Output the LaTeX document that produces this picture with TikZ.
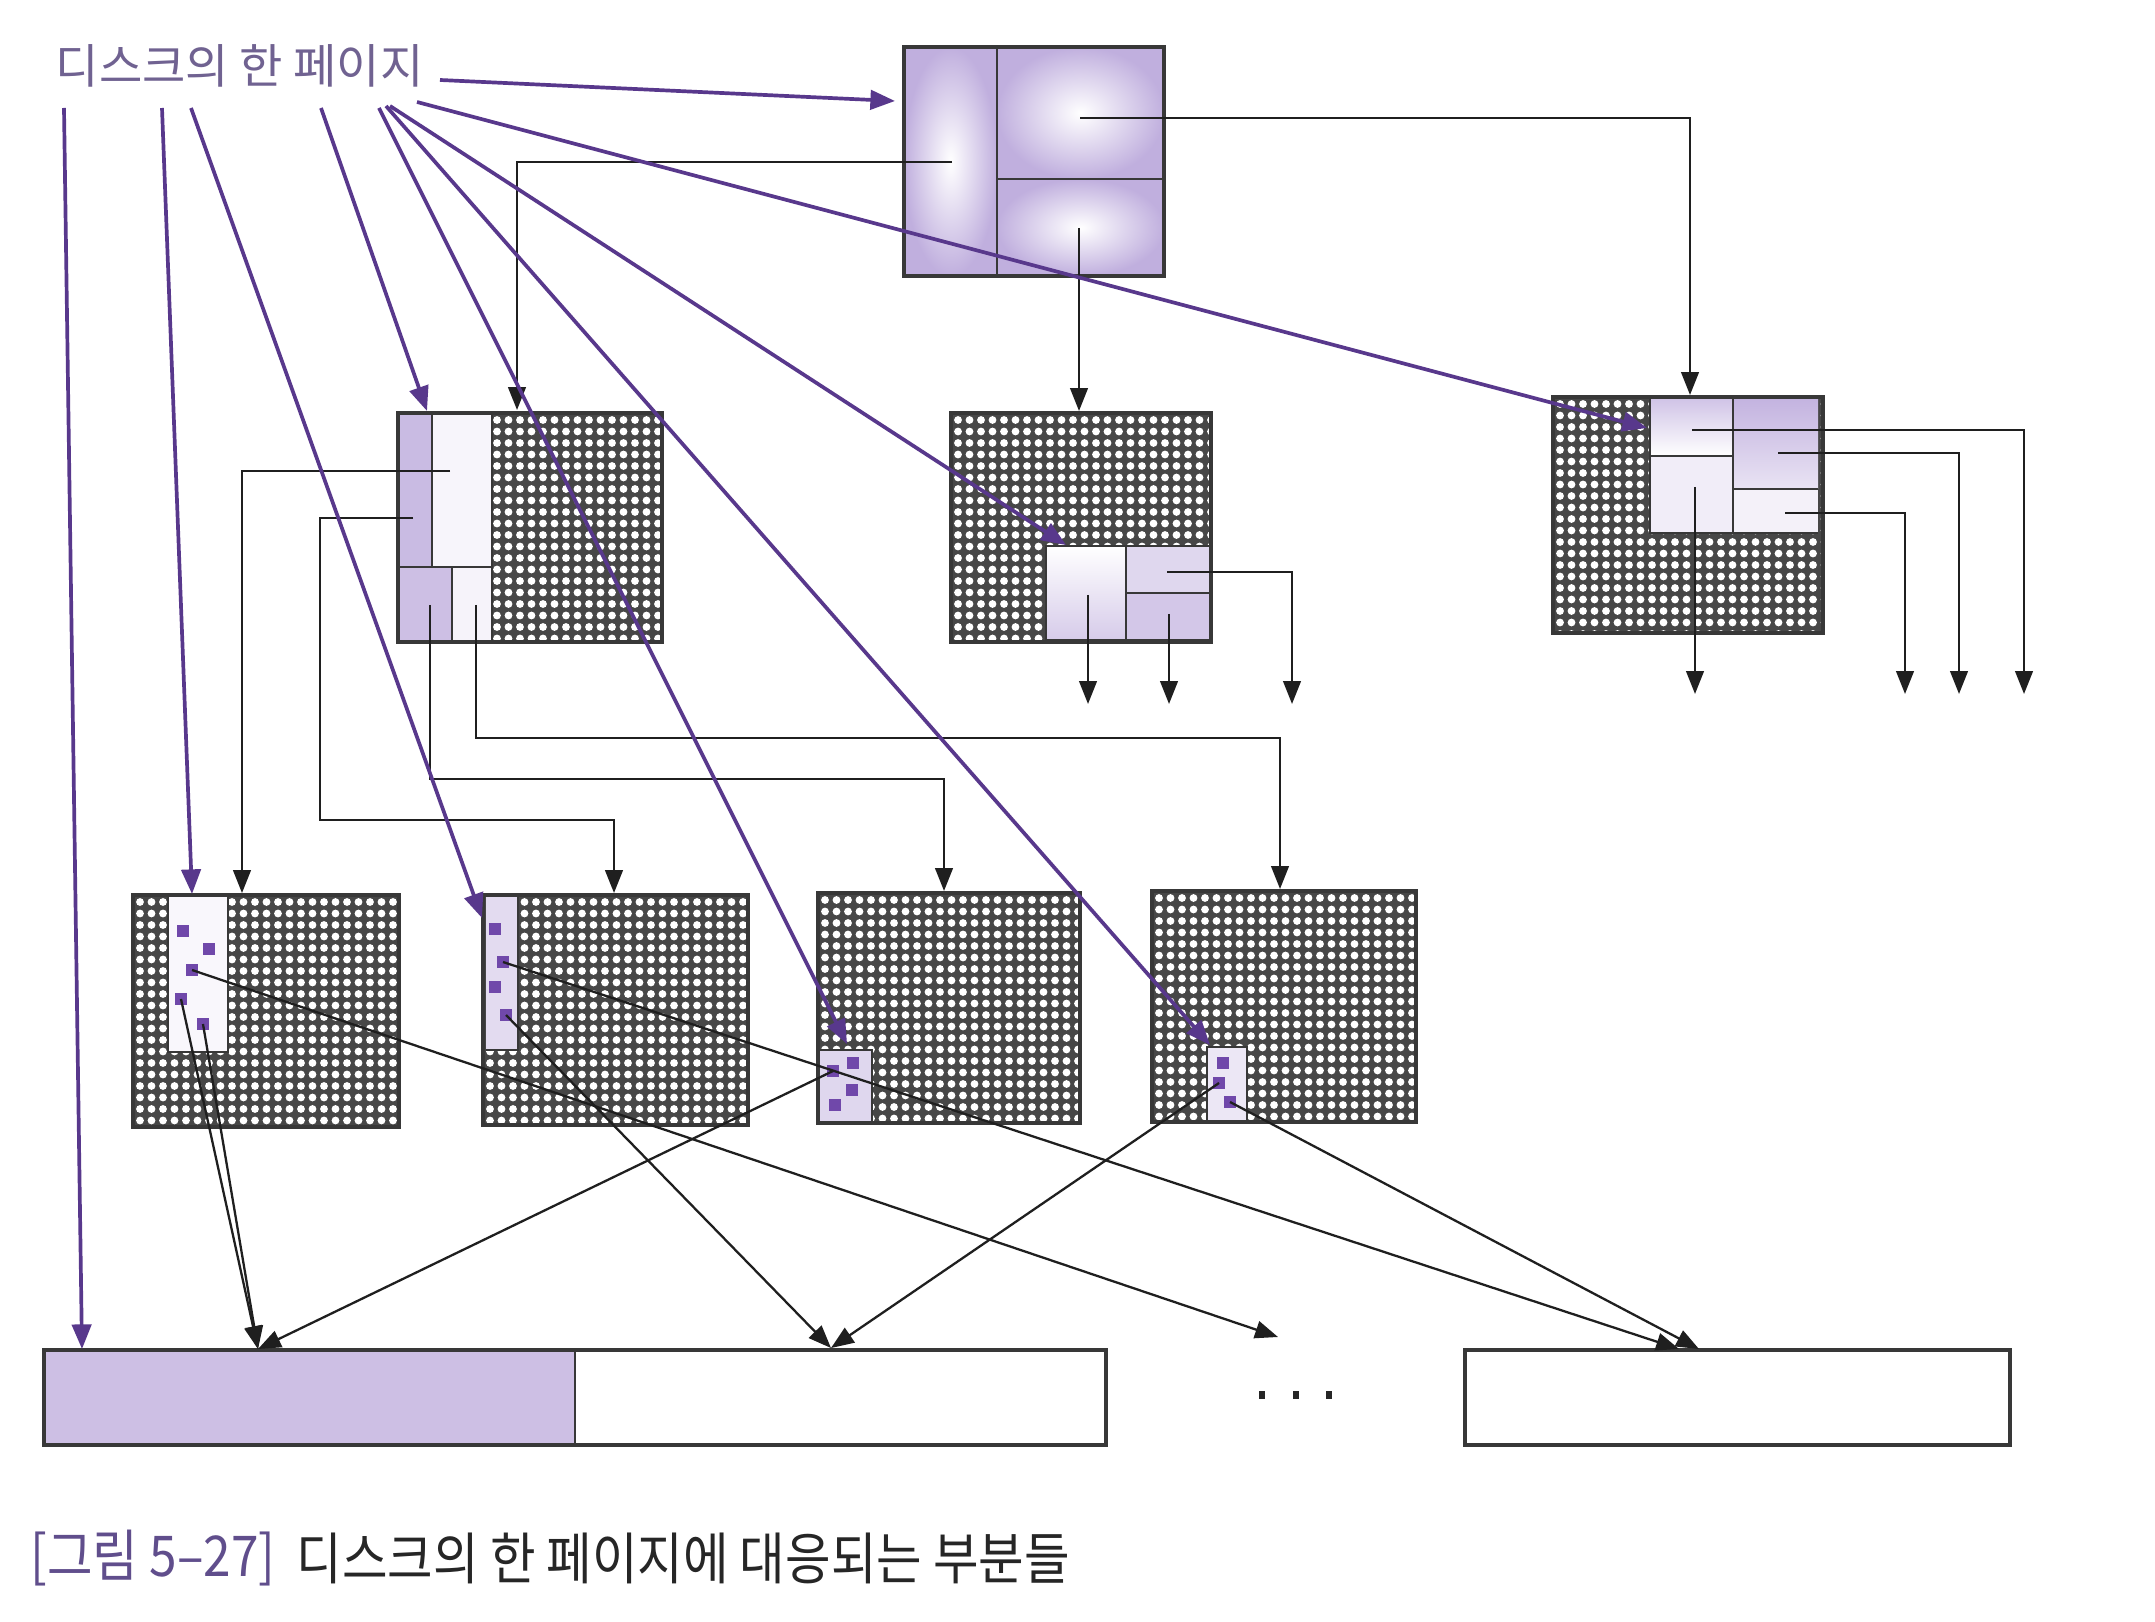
\documentclass[tikz,border=0pt]{standalone}
\usepackage{fontspec}
\newfontfamily\kr{Noto Sans CJK KR}
\usetikzlibrary{arrows.meta}
\definecolor{purp}{RGB}{88,56,140}
\definecolor{lav}{RGB}{192,175,222}
\definecolor{sqc}{RGB}{112,72,170}
\definecolor{lblc}{RGB}{112,98,145}
\definecolor{capc}{RGB}{96,78,140}
\tikzset{
 conn/.style={draw=black!88, line width=0.65pt, -{Triangle[length=6.5pt,width=5pt]}},
 parr/.style={draw=purp, line width=1.05pt, -{Triangle[length=7pt,width=5.5pt]}},
 boxedge/.style={draw=black!78, line width=0.9pt},
 divl/.style={draw=black!78, line width=0.55pt},
}
\newcommand\darkbox[4]{%
 \begin{scope}
 \clip (#1,#2) rectangle (#3,#4);
 \fill[black!72] (#1,#2) rectangle (#3,#4);
 \fill[white] \foreach \i in {0,...,24} {\foreach \j in {0,...,21} {(#1+7+\i*11.5,#2+7+\j*11.5) circle (3.9)}};
 \end{scope}
 \draw[boxedge] (#1,#2) rectangle (#3,#4);}
\newcommand\psquare[2]{\fill[sqc] (#1-6,#2-6) rectangle (#1+6,#2+6);}
\begin{document}
\begin{tikzpicture}[x=0.01cm,y=-0.01cm]
\useasboundingbox (0,0) rectangle (2155,1622);
\fill[white] (0,0) rectangle (2155,1622);

% ---------- top box ----------
\fill[lav] (904,47) rectangle (1164,276);
\shade[inner color=white, outer color=lav] (904,47) rectangle (997,276);
\shade[inner color=white, outer color=lav] (997,47) rectangle (1164,179);
\shade[inner color=white, outer color=lav] (997,179) rectangle (1164,276);
\draw[divl] (997,47) -- (997,276) (997,179) -- (1164,179);
\draw[boxedge] (904,47) rectangle (1164,276);

% ---------- middle row ----------
\darkbox{398}{413}{662}{642}
\fill[lav!85] (398,413) rectangle (432,567);
\fill[lav!12] (432,413) rectangle (492,567);
\fill[lav!80] (398,567) rectangle (452,642);
\fill[lav!15] (452,567) rectangle (492,642);
\draw[divl] (432,413) -- (432,567) (398,567) -- (492,567) (452,567) -- (452,642) (492,413) -- (492,642);
\draw[boxedge] (398,413) rectangle (662,642);

\darkbox{951}{413}{1211}{642}
\shade[top color=white, bottom color=lav!65] (1046,546) rectangle (1126,640);
\fill[lav!50] (1126,546) rectangle (1211,593);
\fill[lav!70] (1126,593) rectangle (1211,640);
\draw[divl] (1046,546) rectangle (1211,640) (1126,546) -- (1126,640) (1126,593) -- (1211,593);
\draw[boxedge] (951,413) rectangle (1211,642);

\darkbox{1553}{397}{1823}{633}
\shade[top color=lav!75, bottom color=white] (1650,398) rectangle (1733,456);
\fill[lav!22] (1650,456) rectangle (1733,533);
\shade[top color=lav!95, bottom color=lav!35] (1733,398) rectangle (1818,489);
\fill[lav!18] (1733,489) rectangle (1818,533);
\draw[divl] (1650,398) -- (1650,533) -- (1818,533) (1733,398) -- (1733,533) (1650,456) -- (1733,456) (1733,489) -- (1818,489);
\draw[boxedge] (1553,397) rectangle (1823,633);

% ---------- bottom row ----------
\darkbox{133}{895}{399}{1127}
\fill[lav!10] (168,897) rectangle (228,1052);
\draw[divl] (168,897) -- (168,1052) -- (228,1052) -- (228,897);
\psquare{183}{931}\psquare{209}{949}\psquare{192}{970}\psquare{181}{999}\psquare{203}{1024}

\darkbox{483}{895}{748}{1125}
\fill[lav!45] (486,897) rectangle (518,1050);
\draw[divl] (518,897) -- (518,1050) -- (486,1050);
\psquare{495}{929}\psquare{503}{962}\psquare{495}{987}\psquare{506}{1015}

\darkbox{818}{893}{1080}{1123}
\fill[lav!50] (820,1050) rectangle (872,1121);
\draw[divl] (820,1050) -- (872,1050) -- (872,1121);
\psquare{833}{1071}\psquare{853}{1063}\psquare{852}{1090}\psquare{835}{1105}

\darkbox{1152}{891}{1416}{1122}
\fill[lav!30] (1207,1047) rectangle (1247,1120);
\draw[divl] (1207,1120) -- (1207,1047) -- (1247,1047) -- (1247,1120);
\psquare{1223}{1063}\psquare{1219}{1083}\psquare{1230}{1102}

% ---------- bars ----------
\fill[lav!80] (44,1350) rectangle (575,1445);
\draw[boxedge] (44,1350) rectangle (1106,1445);
\draw[divl] (575,1350) -- (575,1445);
\draw[boxedge] (1465,1350) rectangle (2010,1445);
\foreach \x in {1262,1296,1329} \fill[black!85] (\x-3,1391) rectangle (\x+3,1399);

% ---------- coordinates ----------
\coordinate (t1) at (952,162);   \coordinate (t1e) at (517,410);
\coordinate (t2) at (1080,118);  \coordinate (t2e) at (1690,395);
\coordinate (t3) at (1079,228);  \coordinate (t3e) at (1079,411);
\coordinate (m1) at (450,471);   \coordinate (m1e) at (242,893);
\coordinate (m2) at (413,518);   \coordinate (m2k) at (320,820); \coordinate (m2e) at (614,893);
\coordinate (m3) at (430,605);   \coordinate (m3k) at (944,779); \coordinate (m3e) at (944,891);
\coordinate (m4) at (476,605);   \coordinate (m4k) at (1280,738); \coordinate (m4e) at (1280,889);
\coordinate (c1) at (1167,572);  \coordinate (c1e) at (1292,704);
\coordinate (c2) at (1088,595);  \coordinate (c2e) at (1088,704);
\coordinate (c3) at (1169,614);  \coordinate (c3e) at (1169,704);
\coordinate (r1) at (1692,430);  \coordinate (r1e) at (2024,694);
\coordinate (r2) at (1778,453);  \coordinate (r2e) at (1959,694);
\coordinate (r3) at (1785,513);  \coordinate (r3e) at (1905,694);
\coordinate (r4) at (1695,487);  \coordinate (r4e) at (1695,694);
\coordinate (s1) at (192,970);   \coordinate (s2) at (181,999);  \coordinate (s3) at (203,1024);
\coordinate (s4) at (503,962);   \coordinate (s5) at (506,1015);
\coordinate (s6) at (833,1071);
\coordinate (s7) at (1219,1083); \coordinate (s8) at (1230,1102);
\coordinate (bA) at (258,1349);  \coordinate (bB) at (831,1348);
\coordinate (dots) at (1278,1337);
\coordinate (bC1) at (1679,1349); \coordinate (bC2) at (1699,1349);

% ---------- black connectors ----------
\draw[conn] (t1) -| (t1e);
\draw[conn] (t2) -| (t2e);
\draw[conn] (t3) -- (t3e);
\draw[conn] (m1) -| (m1e);
\draw[conn] (m2) -| (m2k) -| (m2e);
\draw[conn] (m3) |- (m3k) -- (m3e);
\draw[conn] (m4) |- (m4k) -- (m4e);
\draw[conn] (c1) -| (c1e);
\draw[conn] (c2) -- (c2e);
\draw[conn] (c3) -- (c3e);
\draw[conn] (r1) -| (r1e);
\draw[conn] (r2) -| (r2e);
\draw[conn] (r3) -| (r3e);
\draw[conn] (r4) -- (r4e);
\draw[conn] (s1) -- (dots);
\draw[conn] (s2) -- (bA);
\draw[conn] (s3) -- (bA);
\draw[conn] (s6) -- (bA);
\draw[conn] (s5) -- (bB);
\draw[conn] (s7) -- (bB);
\draw[conn] (s4) -- (bC1);
\draw[conn] (s8) -- (bC2);

% ---------- label and purple arrows ----------
\node[anchor=west, inner sep=0, text=lblc, font=\kr\fontsize{13.4pt}{16pt}\selectfont] (lbl) at (55,66) {디스크의 한 페이지};
\coordinate (p1) at (440,80);   \coordinate (p1e) at (895,101);
\coordinate (p2) at (64,108);   \coordinate (p2e) at (82,1349);
\coordinate (p3) at (162,108);  \coordinate (p3e) at (192,894);
\coordinate (p4) at (191,108);  \coordinate (p4e) at (482,918);
\coordinate (p5) at (321,108);  \coordinate (p5e) at (427,411);
\coordinate (p6) at (379,108);  \coordinate (p6e) at (847,1044);
\coordinate (p7) at (386,106);  \coordinate (p7e) at (1210,1045);
\coordinate (p8) at (390,106);  \coordinate (p8e) at (1066,545);
\coordinate (p9) at (417,102);  \coordinate (p9e) at (1647,428);
\foreach \a in {1,...,9} \draw[parr] (p\a) -- (p\a e);

% ---------- caption ----------
\node[anchor=west, inner sep=0, text=capc, font=\kr\fontsize{16pt}{19pt}\selectfont] (cap1) at (30,1558) {\scalebox{0.88}[1]{[그림 5–27]}};
\node[anchor=west, inner sep=0, text=black!85, font=\kr\fontsize{16pt}{19pt}\selectfont] (cap2) at (296,1558) {\scalebox{0.88}[1]{디스크의 한 페이지에 대응되는 부분들}};
\end{tikzpicture}
\end{document}
